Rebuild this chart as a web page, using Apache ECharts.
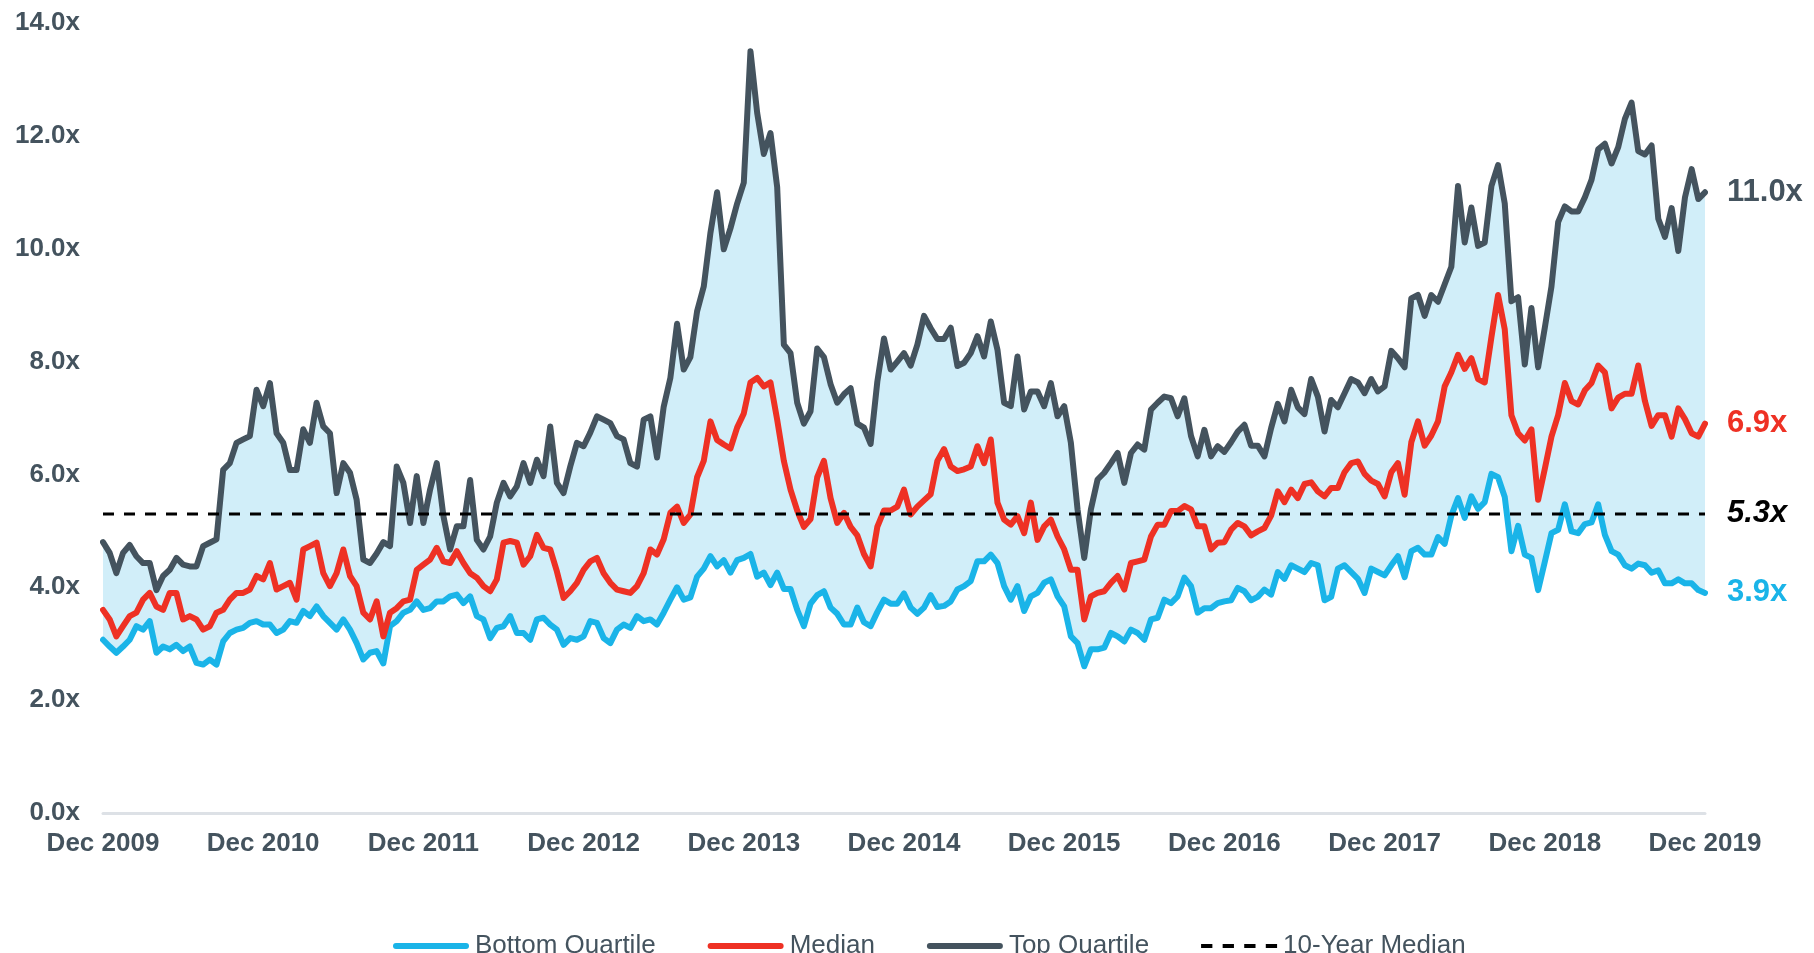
<!DOCTYPE html>
<html>
<head>
<meta charset="utf-8">
<script src="https://cdn.jsdelivr.net/npm/echarts@6.0.0/dist/echarts.min.js"></script>
<style>
  html, body { margin: 0; padding: 0; background: #fff; }
  #valuation-chart { width: 1814px; height: 953px; }
</style>
</head>
<body>
<div id="valuation-chart"></div>
<script>
// half-monthly readings, Dec 2009 -> Dec 2019 (241 points)
const topQuartile = [
  4.8, 4.61, 4.25, 4.61, 4.75, 4.55, 4.43, 4.43, 3.95, 4.2,
  4.31, 4.52, 4.4, 4.37, 4.37, 4.73, 4.79, 4.85, 6.08, 6.2,
  6.56, 6.62, 6.68, 7.5, 7.21, 7.62, 6.73, 6.56, 6.08, 6.08,
  6.8, 6.56, 7.27, 6.85, 6.73, 5.67, 6.2, 6.03, 5.55, 4.49,
  4.43, 4.6, 4.8, 4.73, 6.14, 5.85, 5.14, 5.97, 5.14, 5.73,
  6.2, 5.26, 4.67, 5.08, 5.08, 5.9, 4.84, 4.67, 4.9, 5.5,
  5.85, 5.61, 5.79, 6.2, 5.85, 6.26, 5.97, 6.85, 5.85, 5.67,
  6.14, 6.56, 6.5, 6.74, 7.03, 6.97, 6.91, 6.68, 6.62, 6.2,
  6.14, 6.97, 7.03, 6.3, 7.2, 7.71, 8.67, 7.86, 8.08, 8.89,
  9.33, 10.28, 11.0, 9.99, 10.36, 10.8, 11.17, 13.5, 12.41, 11.68,
  12.05, 11.09, 8.3, 8.15, 7.27, 6.9, 7.12, 8.23, 8.08, 7.6,
  7.27, 7.42, 7.53, 6.9, 6.83, 6.54, 7.64, 8.41, 7.86, 8.0,
  8.15, 7.93, 8.3, 8.81, 8.59, 8.4, 8.4, 8.6, 7.92, 7.98,
  8.15, 8.45, 8.09, 8.71, 8.21, 7.27, 7.21, 8.09, 7.15, 7.47,
  7.47, 7.21, 7.62, 7.03, 7.21, 6.56, 5.38, 4.52, 5.38, 5.91,
  6.03, 6.2, 6.38, 5.85, 6.38, 6.53, 6.44, 7.15, 7.27, 7.38,
  7.35, 7.03, 7.35, 6.68, 6.32, 6.79, 6.32, 6.5, 6.4, 6.57,
  6.76, 6.88, 6.51, 6.51, 6.32, 6.82, 7.25, 6.94, 7.5, 7.19,
  7.07, 7.69, 7.38, 6.76, 7.32, 7.19, 7.44, 7.69, 7.63, 7.44,
  7.69, 7.47, 7.56, 8.19, 8.06, 7.9, 9.12, 9.18, 8.81, 9.18,
  9.06, 9.37, 9.68, 11.11, 10.11, 10.73, 10.05, 10.11, 11.11, 11.48,
  10.8, 9.07, 9.14, 7.95, 8.95, 7.9, 8.6, 9.33, 10.47, 10.75,
  10.66, 10.66, 10.91, 11.22, 11.76, 11.86, 11.51, 11.8, 12.3, 12.59,
  11.73, 11.67, 11.83, 10.53, 10.21, 10.72, 9.96, 10.91, 11.41, 10.88,
  11.0
];

const median = [
  3.6, 3.43, 3.13, 3.31, 3.49, 3.55, 3.78, 3.9, 3.66, 3.6,
  3.9, 3.9, 3.43, 3.49, 3.43, 3.25, 3.31, 3.55, 3.6, 3.78,
  3.9, 3.9, 3.96, 4.2, 4.14, 4.43, 3.96, 4.02, 4.08, 3.78,
  4.67, 4.73, 4.79, 4.25, 4.02, 4.25, 4.67, 4.2, 4.02, 3.55,
  3.43, 3.75, 3.13, 3.55, 3.63, 3.75, 3.78, 4.31, 4.4, 4.49,
  4.7, 4.46, 4.43, 4.64, 4.43, 4.25, 4.17, 4.02, 3.93, 4.14,
  4.79, 4.82, 4.79, 4.4, 4.55, 4.93, 4.7, 4.67, 4.28, 3.81,
  3.93, 4.08, 4.31, 4.46, 4.52, 4.25, 4.08, 3.96, 3.93, 3.9,
  4.02, 4.25, 4.67, 4.58, 4.85, 5.32, 5.43, 5.14, 5.29, 5.95,
  6.24, 6.94, 6.61, 6.53, 6.46, 6.83, 7.08, 7.63, 7.71, 7.56,
  7.63, 6.97, 6.24, 5.73, 5.36, 5.07, 5.21, 5.95, 6.24, 5.58,
  5.14, 5.32, 5.07, 4.92, 4.59, 4.37, 5.07, 5.36, 5.36, 5.43,
  5.73, 5.29, 5.43, 5.54, 5.65, 6.24, 6.45, 6.14, 6.06, 6.09,
  6.14, 6.5, 6.2, 6.62, 5.5, 5.2, 5.11, 5.26, 4.96, 5.5,
  4.84, 5.08, 5.2, 4.9, 4.67, 4.31, 4.31, 3.43, 3.84, 3.9,
  3.93, 4.08, 4.2, 3.96, 4.43, 4.46, 4.49, 4.9, 5.11, 5.11,
  5.35, 5.35, 5.44, 5.38, 5.08, 5.08, 4.67, 4.79, 4.8, 5.02,
  5.14, 5.08, 4.92, 4.99, 5.05, 5.27, 5.7, 5.51, 5.73, 5.58,
  5.83, 5.86, 5.7, 5.61, 5.76, 5.76, 6.04, 6.2, 6.23, 6.01,
  5.89, 5.83, 5.61, 6.04, 6.2, 5.64, 6.57, 6.94, 6.51, 6.69,
  6.94, 7.56, 7.81, 8.12, 7.87, 8.06, 7.69, 7.63, 8.43, 9.18,
  8.57, 7.05, 6.73, 6.6, 6.8, 5.55, 6.1, 6.67, 7.05, 7.62,
  7.3, 7.24, 7.49, 7.62, 7.93, 7.81, 7.17, 7.36, 7.43, 7.43,
  7.93, 7.3, 6.86, 7.05, 7.05, 6.67, 7.17, 6.98, 6.73, 6.67,
  6.9
];

const bottomQuartile = [
  3.07, 2.95, 2.84, 2.95, 3.07, 3.31, 3.25, 3.4, 2.84, 2.95,
  2.9, 2.98, 2.87, 2.95, 2.66, 2.63, 2.72, 2.63, 3.04, 3.19,
  3.25, 3.28, 3.37, 3.4, 3.34, 3.34, 3.19, 3.25, 3.4, 3.37,
  3.58, 3.49, 3.66, 3.49, 3.37, 3.25, 3.43, 3.25, 3.01, 2.72,
  2.84, 2.87, 2.65, 3.31, 3.4, 3.55, 3.6, 3.75, 3.6, 3.63,
  3.75, 3.75, 3.84, 3.87, 3.72, 3.84, 3.49, 3.43, 3.1, 3.28,
  3.31, 3.49, 3.19, 3.19, 3.07, 3.43, 3.46, 3.34, 3.25, 2.98,
  3.1, 3.07, 3.13, 3.4, 3.37, 3.1, 3.01, 3.25, 3.34, 3.28,
  3.49, 3.4, 3.43, 3.34, 3.55, 3.78, 4.0, 3.78, 3.82, 4.19,
  4.33, 4.55, 4.37, 4.48, 4.26, 4.48, 4.52, 4.59, 4.19, 4.26,
  4.04, 4.26, 3.97, 3.97, 3.6, 3.31, 3.71, 3.86, 3.93, 3.64,
  3.53, 3.34, 3.34, 3.64, 3.38, 3.31, 3.56, 3.78, 3.71, 3.71,
  3.89, 3.64, 3.53, 3.64, 3.86, 3.65, 3.67, 3.75, 3.96, 4.02,
  4.11, 4.46, 4.46, 4.58, 4.43, 4.02, 3.78, 4.02, 3.58, 3.84,
  3.9, 4.08, 4.14, 3.84, 3.66, 3.13, 3.01, 2.6, 2.9, 2.9,
  2.93, 3.19, 3.13, 3.04, 3.25, 3.19, 3.07, 3.43, 3.46, 3.78,
  3.72, 3.84, 4.17, 4.02, 3.55, 3.63, 3.63, 3.72, 3.75, 3.77,
  3.99, 3.93, 3.77, 3.83, 3.96, 3.87, 4.27, 4.15, 4.39, 4.33,
  4.27, 4.43, 4.39, 3.77, 3.83, 4.33, 4.39, 4.27, 4.15, 3.9,
  4.33, 4.27, 4.21, 4.39, 4.55, 4.18, 4.64, 4.7, 4.58, 4.58,
  4.89, 4.77, 5.27, 5.58, 5.23, 5.61, 5.39, 5.51, 6.01, 5.95,
  5.6, 4.64, 5.09, 4.58, 4.52, 3.95, 4.45, 4.96, 5.02, 5.47,
  4.99, 4.96, 5.12, 5.15, 5.47, 4.93, 4.64, 4.58, 4.39, 4.33,
  4.42, 4.39, 4.26, 4.3, 4.07, 4.07, 4.14, 4.07, 4.07, 3.95,
  3.9
];

const tenYearMedian = 5.3;

const tickLabels = ['Dec 2009', 'Dec 2010', 'Dec 2011', 'Dec 2012', 'Dec 2013', 'Dec 2014',
  'Dec 2015', 'Dec 2016', 'Dec 2017', 'Dec 2018', 'Dec 2019'];

// two readings a month, starting Dec 2009
let categories = [];
for (let i = 0; i < topQuartile.length; i++) {
  let m = 11 + Math.floor(i / 2);
  let year = 2009 + Math.floor(m / 12);
  let month = (m % 12) + 1;
  categories.push(year + '-' + (month < 10 ? '0' : '') + month + (i % 2 ? '-15' : '-01'));
}

const bandSize = topQuartile.map((v, i) => +(v - bottomQuartile[i]).toFixed(2));

const FONT = '"Liberation Sans", Arial, sans-serif';
const SLATE = '#44535e';
const RED = '#ee3124';
const BLUE = '#1ab4e8';
const LINE_W = 6;

// legend icons: thick rounded bars, four dashes for the reference line
const BAR_ICON = 'path://M3,0H73A3,3 0 0 1 73,6H3A3,3 0 0 1 3,0Z';
const DASH_ICON = 'path://M0,1H11V5H0Z M21,1H32V5H21Z M42,1H53V5H42Z M63,1H74V5H63Z';

let myChart = echarts.init(document.getElementById('valuation-chart'));

let option = {
  animation: false,
  textStyle: { fontFamily: FONT },
  grid: { left: 103, right: 109, top: 23, bottom: 140 },
  legend: {
    data: [
      { name: 'Bottom Quartile', icon: BAR_ICON },
      { name: 'Median', icon: BAR_ICON },
      { name: 'Top Quartile', icon: BAR_ICON },
      { name: '10-Year Median', icon: DASH_ICON }
    ],
    left: 388,
    top: 928,
    itemWidth: 76,
    itemHeight: 6,
    itemGap: 52,
    textStyle: { fontFamily: FONT, fontSize: 26, color: SLATE, padding: [0, 0, 0, 1] }
  },
  xAxis: {
    type: 'category',
    boundaryGap: false,
    data: categories,
    axisLine: { lineStyle: { color: '#dde1e6', width: 3 } },
    axisTick: { show: false },
    axisLabel: {
      interval: function (index) { return index % 24 === 0; },
      formatter: function (value, index) { return tickLabels[index / 24]; },
      margin: 18,
      fontSize: 26,
      fontWeight: 'bold',
      color: SLATE,
      fontFamily: FONT
    }
  },
  yAxis: {
    type: 'value',
    min: 0,
    max: 14,
    interval: 2,
    axisLine: { show: false },
    axisTick: { show: false },
    splitLine: { show: false },
    axisLabel: {
      formatter: function (v) { return v.toFixed(1) + 'x'; },
      margin: 23,
      fontSize: 26,
      fontWeight: 'bold',
      color: SLATE,
      fontFamily: FONT
    }
  },
  series: [
    {
      name: 'bandBase',
      type: 'line',
      stack: 'band',
      symbol: 'none',
      lineStyle: { opacity: 0 },
      data: bottomQuartile,
      z: 1
    },
    {
      name: 'band',
      type: 'line',
      stack: 'band',
      symbol: 'none',
      lineStyle: { opacity: 0 },
      areaStyle: { color: '#d1eef9', opacity: 1 },
      data: bandSize,
      z: 1
    },
    {
      name: 'Bottom Quartile',
      type: 'line',
      symbol: 'none',
      color: BLUE,
      itemStyle: { color: BLUE },
      lineStyle: { color: BLUE, width: LINE_W, join: 'round', cap: 'round' },
      data: bottomQuartile,
      endLabel: {
        show: true, formatter: '3.9x', distance: 22,
        fontSize: 31, fontWeight: 'bold', color: BLUE, fontFamily: FONT
      },
      z: 3
    },
    {
      name: 'Median',
      type: 'line',
      symbol: 'none',
      color: RED,
      itemStyle: { color: RED },
      lineStyle: { color: RED, width: LINE_W, join: 'round', cap: 'round' },
      data: median,
      endLabel: {
        show: true, formatter: '6.9x', distance: 22,
        fontSize: 31, fontWeight: 'bold', color: RED, fontFamily: FONT
      },
      z: 4
    },
    {
      name: 'Top Quartile',
      type: 'line',
      symbol: 'none',
      color: SLATE,
      itemStyle: { color: SLATE },
      lineStyle: { color: SLATE, width: LINE_W, join: 'round', cap: 'round' },
      data: topQuartile,
      endLabel: {
        show: true, formatter: '11.0x', distance: 22,
        fontSize: 31, fontWeight: 'bold', color: SLATE, fontFamily: FONT
      },
      z: 5
    },
    {
      name: '10-Year Median',
      type: 'line',
      symbol: 'none',
      color: '#000',
      itemStyle: { color: '#000' },
      lineStyle: { color: '#000', width: 3, type: [11, 10] },
      data: [[0, tenYearMedian], [categories.length - 1, tenYearMedian]],
      endLabel: {
        show: true, formatter: '5.3x', distance: 22,
        fontSize: 31, fontWeight: 'bold', fontStyle: 'italic', color: '#000', fontFamily: FONT
      },
      z: 6
    }
  ]
};
myChart.setOption(option);

window.addEventListener('resize', function () {
  myChart.resize();
});
</script>
</body>
</html>
